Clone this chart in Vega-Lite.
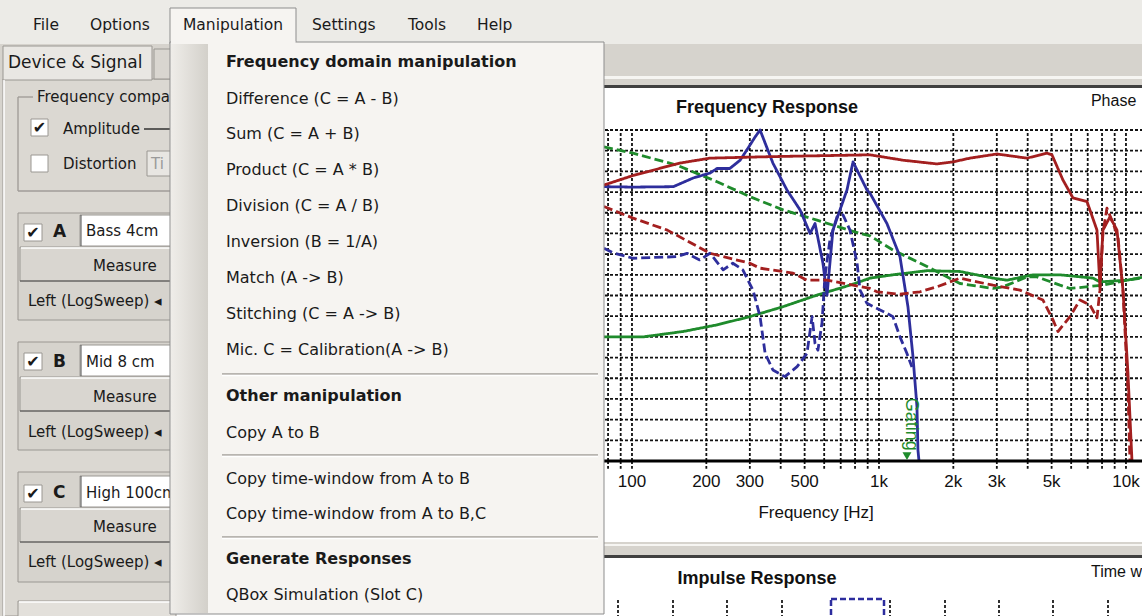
{
"$schema": "https://vega.github.io/schema/vega-lite/v6.json",
"width": 1142, "height": 616, "autosize": {"type": "none"}, "padding": 0,
"background": "#d6d3cd",
"config": {"view": {"stroke": null}, "axis": {"disable": true}, "legend": {"disable": true}},
"datasets": {
"backRects": [
{"p":"menubar","x0":0,"x1":1142,"y0":0,"y1":44},
{"p":"highlight","x0":172,"x1":1142,"y0":76,"y1":79},
{"p":"border","x0":172,"x1":1142,"y0":85,"y1":88},
{"p":"panel","x0":172,"x1":1142,"y0":88,"y1":542},
{"p":"highlight","x0":172,"x1":1142,"y0":544,"y1":546},
{"p":"border","x0":172,"x1":1142,"y0":555,"y1":558},
{"p":"panel","x0":172,"x1":1142,"y0":558,"y1":616}
],
"impGrid": [{"x":618},{"x":673},{"x":727},{"x":782},{"x":890},{"x":945},{"x":999},{"x":1053},{"x":1108}],
"hgrid": [{"db":25},{"db":30},{"db":35},{"db":40},{"db":45},{"db":50},{"db":55},{"db":60},{"db":65},{"db":70},{"db":75},{"db":80},{"db":85},{"db":90},{"db":95},{"db":100}],
"vgrid": [{"f":20},{"f":30},{"f":40},{"f":50},{"f":60},{"f":70},{"f":80},{"f":90},{"f":100},{"f":200},{"f":300},{"f":400},{"f":500},{"f":600},{"f":700},{"f":800},{"f":900},{"f":1000},{"f":2000},{"f":3000},{"f":4000},{"f":5000},{"f":6000},{"f":7000},{"f":8000},{"f":9000},{"f":10000},{"f":20000}],
"flabels": [{"f":100,"t":"100"},{"f":200,"t":"200"},{"f":300,"t":"300"},{"f":500,"t":"500"},{"f":1000,"t":"1k"},{"f":2000,"t":"2k"},{"f":3000,"t":"3k"},{"f":5000,"t":"5k"},{"f":10000,"t":"10k"}],
"curves": [
{"s":"A","k":"magnitude","f":77,"db":50},{"s":"A","k":"magnitude","f":111,"db":50},{"s":"A","k":"magnitude","f":161,"db":51.3},{"s":"A","k":"magnitude","f":221,"db":52.9},{"s":"A","k":"magnitude","f":300,"db":54.9},{"s":"A","k":"magnitude","f":409,"db":57.3},{"s":"A","k":"magnitude","f":561,"db":60.1},{"s":"A","k":"magnitude","f":763,"db":62.5},{"s":"A","k":"magnitude","f":920,"db":64.2},{"s":"A","k":"magnitude","f":1139,"db":65},{"s":"A","k":"magnitude","f":1565,"db":66},{"s":"A","k":"magnitude","f":2128,"db":65.8},{"s":"A","k":"magnitude","f":2894,"db":64.2},{"s":"A","k":"magnitude","f":3298,"db":63.7},{"s":"A","k":"magnitude","f":4203,"db":65},{"s":"A","k":"magnitude","f":5406,"db":65},{"s":"A","k":"magnitude","f":7353,"db":64.2},{"s":"A","k":"magnitude","f":7845,"db":63.3},{"s":"A","k":"magnitude","f":10094,"db":63.7},{"s":"A","k":"magnitude","f":11612,"db":64.4},
{"s":"A","k":"phase","f":77,"db":95.9},{"s":"A","k":"phase","f":101,"db":94.4},{"s":"A","k":"phase","f":152,"db":91.5},{"s":"A","k":"phase","f":221,"db":87.5},{"s":"A","k":"phase","f":300,"db":83.9},{"s":"A","k":"phase","f":409,"db":80.7},{"s":"A","k":"phase","f":561,"db":78.2},{"s":"A","k":"phase","f":838,"db":75},{"s":"A","k":"phase","f":920,"db":74.4},{"s":"A","k":"phase","f":1139,"db":71},{"s":"A","k":"phase","f":1565,"db":67},{"s":"A","k":"phase","f":2128,"db":62.9},{"s":"A","k":"phase","f":2894,"db":61.7},{"s":"A","k":"phase","f":3177,"db":62.1},{"s":"A","k":"phase","f":3974,"db":64.5},{"s":"A","k":"phase","f":4363,"db":64.5},{"s":"A","k":"phase","f":5406,"db":62.5},{"s":"A","k":"phase","f":5933,"db":61.7},{"s":"A","k":"phase","f":8068,"db":62.5},{"s":"A","k":"phase","f":10094,"db":63.7},{"s":"A","k":"phase","f":11612,"db":64.2},
{"s":"B","k":"magnitude","f":77,"db":86.3},{"s":"B","k":"magnitude","f":101,"db":86.2},{"s":"B","k":"magnitude","f":147,"db":86.3},{"s":"B","k":"magnitude","f":177,"db":88.4},{"s":"B","k":"magnitude","f":207,"db":89.6},{"s":"B","k":"magnitude","f":221,"db":90.7},{"s":"B","k":"magnitude","f":249,"db":90.7},{"s":"B","k":"magnitude","f":274,"db":92.7},{"s":"B","k":"magnitude","f":292,"db":95.2},{"s":"B","k":"magnitude","f":315,"db":98.3},{"s":"B","k":"magnitude","f":330,"db":100},{"s":"B","k":"magnitude","f":372,"db":92},{"s":"B","k":"magnitude","f":424,"db":85.5},{"s":"B","k":"magnitude","f":479,"db":80.7},{"s":"B","k":"magnitude","f":526,"db":75},{"s":"B","k":"magnitude","f":551,"db":77.4},{"s":"B","k":"magnitude","f":593,"db":67.8},{"s":"B","k":"magnitude","f":616,"db":60.1},{"s":"B","k":"magnitude","f":651,"db":75.8},{"s":"B","k":"magnitude","f":742,"db":85.5},{"s":"B","k":"magnitude","f":785,"db":92.3},{"s":"B","k":"magnitude","f":894,"db":85.5},{"s":"B","k":"magnitude","f":920,"db":84.7},{"s":"B","k":"magnitude","f":1077,"db":77.4},{"s":"B","k":"magnitude","f":1216,"db":69.4},{"s":"B","k":"magnitude","f":1310,"db":57.3},{"s":"B","k":"magnitude","f":1373,"db":45.2},{"s":"B","k":"magnitude","f":1425,"db":33.1},{"s":"B","k":"magnitude","f":1438,"db":22.7},{"s":"B","k":"magnitude","f":1452,"db":20},
{"s":"B","k":"phase","f":77,"db":71.4},{"s":"B","k":"phase","f":84,"db":70.3},{"s":"B","k":"phase","f":101,"db":69},{"s":"B","k":"phase","f":152,"db":69.4},{"s":"B","k":"phase","f":167,"db":70.2},{"s":"B","k":"phase","f":188,"db":68.6},{"s":"B","k":"phase","f":207,"db":70.2},{"s":"B","k":"phase","f":234,"db":66.2},{"s":"B","k":"phase","f":256,"db":67.8},{"s":"B","k":"phase","f":281,"db":66.2},{"s":"B","k":"phase","f":309,"db":61.3},{"s":"B","k":"phase","f":330,"db":54.9},{"s":"B","k":"phase","f":346,"db":46},{"s":"B","k":"phase","f":372,"db":42},{"s":"B","k":"phase","f":416,"db":40.4},{"s":"B","k":"phase","f":466,"db":42.8},{"s":"B","k":"phase","f":511,"db":46},{"s":"B","k":"phase","f":536,"db":54.9},{"s":"B","k":"phase","f":551,"db":48.4},{"s":"B","k":"phase","f":566,"db":46.8},{"s":"B","k":"phase","f":588,"db":53.4},{"s":"B","k":"phase","f":604,"db":64.5},{"s":"B","k":"phase","f":633,"db":73.4},{"s":"B","k":"phase","f":676,"db":79},{"s":"B","k":"phase","f":715,"db":79.5},{"s":"B","k":"phase","f":763,"db":75.8},{"s":"B","k":"phase","f":815,"db":67.9},{"s":"B","k":"phase","f":838,"db":61.3},{"s":"B","k":"phase","f":894,"db":58.1},{"s":"B","k":"phase","f":1077,"db":55.7},{"s":"B","k":"phase","f":1139,"db":54.9},{"s":"B","k":"phase","f":1216,"db":50},{"s":"B","k":"phase","f":1298,"db":46},{"s":"B","k":"phase","f":1360,"db":42.7},
{"s":"C","k":"magnitude","f":77,"db":86.7},{"s":"C","k":"magnitude","f":101,"db":89},{"s":"C","k":"magnitude","f":156,"db":92},{"s":"C","k":"magnitude","f":207,"db":93.2},{"s":"C","k":"magnitude","f":330,"db":93.5},{"s":"C","k":"magnitude","f":479,"db":93.7},{"s":"C","k":"magnitude","f":920,"db":94},{"s":"C","k":"magnitude","f":1251,"db":92.7},{"s":"C","k":"magnitude","f":1717,"db":91.8},{"s":"C","k":"magnitude","f":1994,"db":92.3},{"s":"C","k":"magnitude","f":2336,"db":93.2},{"s":"C","k":"magnitude","f":3004,"db":94.2},{"s":"C","k":"magnitude","f":3974,"db":93.2},{"s":"C","k":"magnitude","f":4788,"db":94.4},{"s":"C","k":"magnitude","f":5016,"db":94},{"s":"C","k":"magnitude","f":5559,"db":87.9},{"s":"C","k":"magnitude","f":6101,"db":83.6},{"s":"C","k":"magnitude","f":6953,"db":82.7},{"s":"C","k":"magnitude","f":7631,"db":75.8},{"s":"C","k":"magnitude","f":7845,"db":62.1},{"s":"C","k":"magnitude","f":8068,"db":75.8},{"s":"C","k":"magnitude","f":8612,"db":79},{"s":"C","k":"magnitude","f":9196,"db":75.8},{"s":"C","k":"magnitude","f":9725,"db":61.3},{"s":"C","k":"magnitude","f":10186,"db":41.3},{"s":"C","k":"magnitude","f":10576,"db":20},
{"s":"C","k":"phase","f":77,"db":81.5},{"s":"C","k":"phase","f":101,"db":78.7},{"s":"C","k":"phase","f":139,"db":75.8},{"s":"C","k":"phase","f":207,"db":70.2},{"s":"C","k":"phase","f":300,"db":67.8},{"s":"C","k":"phase","f":330,"db":66.6},{"s":"C","k":"phase","f":409,"db":65.8},{"s":"C","k":"phase","f":449,"db":65.4},{"s":"C","k":"phase","f":511,"db":63.7},{"s":"C","k":"phase","f":616,"db":63.7},{"s":"C","k":"phase","f":785,"db":62.5},{"s":"C","k":"phase","f":920,"db":61.7},{"s":"C","k":"phase","f":982,"db":60.9},{"s":"C","k":"phase","f":1216,"db":60.3},{"s":"C","k":"phase","f":1466,"db":60.9},{"s":"C","k":"phase","f":1717,"db":62.1},{"s":"C","k":"phase","f":2128,"db":64.2},{"s":"C","k":"phase","f":2494,"db":63.3},{"s":"C","k":"phase","f":2894,"db":62.5},{"s":"C","k":"phase","f":3724,"db":61.3},{"s":"C","k":"phase","f":4613,"db":58.9},{"s":"C","k":"phase","f":5063,"db":54.1},{"s":"C","k":"phase","f":5304,"db":51.3},{"s":"C","k":"phase","f":5933,"db":54.9},{"s":"C","k":"phase","f":6513,"db":58.9},{"s":"C","k":"phase","f":7150,"db":57.7},{"s":"C","k":"phase","f":7631,"db":54.6},{"s":"C","k":"phase","f":7845,"db":61.3},{"s":"C","k":"phase","f":8068,"db":75.1},{"s":"C","k":"phase","f":8375,"db":81.1},{"s":"C","k":"phase","f":8860,"db":77.5},{"s":"C","k":"phase","f":9282,"db":74.2},{"s":"C","k":"phase","f":9725,"db":61.3},{"s":"C","k":"phase","f":10186,"db":37.2},{"s":"C","k":"phase","f":10380,"db":20}
],
"panelRects": [
{"p":"panel","x0":3,"x1":172,"y0":79,"y1":616},
{"p":"tab2","x0":154,"x1":176,"y0":49,"y1":79},
{"p":"tab","x0":3,"x1":152,"y0":46,"y1":80},
{"p":"group","x0":18,"x1":176,"y0":213,"y1":320},
{"p":"group","x0":18,"x1":176,"y0":342,"y1":450},
{"p":"group","x0":18,"x1":176,"y0":472,"y1":582},
{"p":"field","x0":80,"x1":178,"y0":215,"y1":246},
{"p":"field","x0":80,"x1":178,"y0":345,"y1":376},
{"p":"field","x0":80,"x1":178,"y0":476,"y1":507},
{"p":"button","x0":20,"x1":176,"y0":247,"y1":281},
{"p":"button","x0":20,"x1":176,"y0":377,"y1":411},
{"p":"button","x0":20,"x1":176,"y0":508,"y1":542},
{"p":"bottom","x0":18,"x1":176,"y0":601,"y1":630},
{"p":"check","x0":31,"x1":48,"y0":119,"y1":136},
{"p":"check","x0":31,"x1":48,"y0":155,"y1":172},
{"p":"check","x0":24,"x1":42,"y0":224,"y1":241},
{"p":"check","x0":24,"x1":42,"y0":353,"y1":370},
{"p":"check","x0":24,"x1":42,"y0":485,"y1":502},
{"p":"disabled","x0":147,"x1":176,"y0":151,"y1":176}
],
"panelLines": [
{"p":"light","x0":4,"x1":4,"y0":80,"y1":616},
{"p":"frame","x0":18,"x1":33,"y0":97,"y1":97},
{"p":"frame","x0":18,"x1":18,"y0":97,"y1":191},
{"p":"frame","x0":18,"x1":180,"y0":191,"y1":191},
{"p":"ampline","x0":144,"x1":172,"y0":129,"y1":129},
{"p":"dark","x0":20,"x1":176,"y0":281,"y1":281},
{"p":"dark","x0":20,"x1":176,"y0":411,"y1":411},
{"p":"dark","x0":20,"x1":176,"y0":542,"y1":542},
{"p":"light","x0":21,"x1":176,"y0":248,"y1":248},
{"p":"light","x0":21,"x1":176,"y0":378,"y1":378},
{"p":"light","x0":21,"x1":176,"y0":509,"y1":509},
{"p":"light","x0":19,"x1":176,"y0":602,"y1":602},
{"p":"fieldedge","x0":81,"x1":81,"y0":215,"y1":246},
{"p":"fieldedge","x0":81,"x1":81,"y0":345,"y1":376},
{"p":"fieldedge","x0":81,"x1":81,"y0":476,"y1":507}
],
"panelText": [
{"t":"Frequency comparison","x":37,"y":97},
{"t":"Amplitude","x":63,"y":129},
{"t":"Distortion","x":63,"y":164},
{"t":"Bass 4cm","x":86,"y":231},
{"t":"Mid 8 cm","x":86,"y":362},
{"t":"High 100cm","x":86,"y":493},
{"t":"Measure","x":93,"y":266},
{"t":"Measure","x":93,"y":397},
{"t":"Measure","x":93,"y":527},
{"t":"Left (LogSweep) ◂","x":28,"y":301},
{"t":"Left (LogSweep) ◂","x":28,"y":432},
{"t":"Left (LogSweep) ◂","x":28,"y":562}
],
"slotLetters": [{"t":"A","x":53,"y":232},{"t":"B","x":53,"y":362},{"t":"C","x":53,"y":493}],
"checks": [{"x":39.5,"y":128},{"x":33,"y":233},{"x":33,"y":362},{"x":33,"y":494}],
"menuLines": [
{"p":"cover","x0":171,"x1":295.5,"y0":42.5,"y1":42.5},
{"p":"sep","x0":222,"x1":598,"y0":374,"y1":374},
{"p":"sepw","x0":222,"x1":598,"y0":375.5,"y1":375.5},
{"p":"sep","x0":222,"x1":598,"y0":455,"y1":455},
{"p":"sepw","x0":222,"x1":598,"y0":456.5,"y1":456.5},
{"p":"sep","x0":222,"x1":598,"y0":537,"y1":537},
{"p":"sepw","x0":222,"x1":598,"y0":538.5,"y1":538.5}
],
"menuItems": [
{"t":"Difference (C = A - B)","y":99},
{"t":"Sum (C = A + B)","y":134},
{"t":"Product (C = A * B)","y":170},
{"t":"Division (C = A / B)","y":206},
{"t":"Inversion  (B = 1/A)","y":242},
{"t":"Match  (A -> B)","y":278},
{"t":"Stitching  (C = A -> B)","y":314},
{"t":"Mic.  C = Calibration(A -> B)","y":350},
{"t":"Copy A to B","y":433},
{"t":"Copy time-window from A to B","y":479},
{"t":"Copy time-window from A to B,C","y":514},
{"t":"QBox Simulation (Slot C)","y":595}
],
"menuHeads": [
{"t":"Frequency domain manipulation","y":62},
{"t":"Other manipulation","y":396},
{"t":"Generate Responses","y":559}
],
"menuBar": [
{"t":"File","x":33},{"t":"Options","x":90},{"t":"Manipulation","x":183},{"t":"Settings","x":312},{"t":"Tools","x":408},{"t":"Help","x":477}
]
},
"layer": [
{
"layer": [
{"data":{"name":"backRects"},"mark":{"type":"rect"},
 "encoding":{"x":{"field":"x0","type":"quantitative","scale":{"domain":[0,1142],"nice":false,"zero":false}},"x2":{"field":"x1"},
 "y":{"field":"y0","type":"quantitative","scale":{"domain":[0,616],"nice":false,"zero":false,"reverse":true}},"y2":{"field":"y1"},
 "color":{"field":"p","type":"nominal","scale":{"domain":["menubar","highlight","border","panel"],"range":["#ecebe7","#f6f5f2","#404040","#ffffff"]}}}},
{"data":{"name":"impGrid"},"mark":{"type":"rule","color":"#1a1a1a","strokeWidth":1.8,"strokeDash":[3,2]},
 "encoding":{"x":{"field":"x","type":"quantitative","scale":{"domain":[0,1142],"nice":false,"zero":false}},
 "y":{"datum":600,"type":"quantitative","scale":{"domain":[0,616],"nice":false,"zero":false,"reverse":true}},"y2":{"datum":616}}},
{"data":{"values":[{"x0":831,"x1":884,"y0":599,"y1":626}]},"mark":{"type":"rect","filled":false,"stroke":"#2d2d9e","strokeWidth":2.5,"strokeDash":[6,3]},
 "encoding":{"x":{"field":"x0","type":"quantitative","scale":{"domain":[0,1142],"nice":false,"zero":false}},"x2":{"field":"x1"},
 "y":{"field":"y0","type":"quantitative","scale":{"domain":[0,616],"nice":false,"zero":false,"reverse":true}},"y2":{"field":"y1"}}},
{"data":{"values":[{"t":"Impulse Response"}]},"mark":{"type":"text","font":"Liberation Sans","fontSize":18,"fontWeight":"bold","color":"#111111"},
 "encoding":{"x":{"datum":757,"type":"quantitative","scale":{"domain":[0,1142],"nice":false,"zero":false}},
 "y":{"datum":579,"type":"quantitative","scale":{"domain":[0,616],"nice":false,"zero":false,"reverse":true}},"text":{"field":"t"}}},
{"data":{"values":[{"t":"Time window"}]},"mark":{"type":"text","font":"Liberation Sans","fontSize":16,"align":"left","color":"#111111"},
 "encoding":{"x":{"datum":1091,"type":"quantitative","scale":{"domain":[0,1142],"nice":false,"zero":false}},
 "y":{"datum":572,"type":"quantitative","scale":{"domain":[0,616],"nice":false,"zero":false,"reverse":true}},"text":{"field":"t"}}}
]
},
{
"layer": [
{"data":{"name":"hgrid"},"mark":{"type":"rule","color":"#111111","strokeWidth":1.8,"strokeDash":[3,2]},
 "encoding":{"y":{"field":"db","type":"quantitative","scale":{"domain":[-17.46,131.42],"nice":false,"zero":false}},
 "x":{"datum":10,"type":"quantitative","scale":{"type":"log","domain":[0.2762,11612],"nice":false}},"x2":{"datum":20000}}},
{"data":{"name":"vgrid"},"mark":{"type":"rule","color":"#111111","strokeWidth":1.8,"strokeDash":[3,2]},
 "encoding":{"x":{"field":"f","type":"quantitative","scale":{"type":"log","domain":[0.2762,11612],"nice":false}},
 "y":{"datum":20,"type":"quantitative","scale":{"domain":[-17.46,131.42],"nice":false,"zero":false}},"y2":{"datum":100}}},
{"data":{"name":"vgrid"},"mark":{"type":"rule","color":"#111111","strokeWidth":1.8,"strokeDash":[3,2]},
 "encoding":{"x":{"field":"f","type":"quantitative","scale":{"type":"log","domain":[0.2762,11612],"nice":false}},
 "y":{"datum":20,"type":"quantitative","scale":{"domain":[-17.46,131.42],"nice":false,"zero":false}},"y2":{"datum":18.1}}},
{"data":{"name":"curves"},"mark":{"type":"line","strokeWidth":2.8,"strokeJoin":"round"},
 "encoding":{"x":{"field":"f","type":"quantitative","scale":{"type":"log","domain":[0.2762,11612],"nice":false}},
 "y":{"field":"db","type":"quantitative","scale":{"domain":[-17.46,131.42],"nice":false,"zero":false}},
 "color":{"field":"s","type":"nominal","scale":{"domain":["A","B","C"],"range":["#1f8b2c","#2e2e9c","#a31f1f"]}},
 "strokeDash":{"field":"k","type":"nominal","scale":{"domain":["magnitude","phase"],"range":[[1,0],[9,4]]}}}},
{"data":{"values":[{"t":"axis"}]},"mark":{"type":"rule","color":"#000000","strokeWidth":3},
 "encoding":{"x":{"datum":10,"type":"quantitative","scale":{"type":"log","domain":[0.2762,11612],"nice":false}},"x2":{"datum":20000},
 "y":{"datum":20,"type":"quantitative","scale":{"domain":[-17.46,131.42],"nice":false,"zero":false}}}},
{"data":{"name":"flabels"},"mark":{"type":"text","font":"Liberation Sans","fontSize":17,"color":"#111111"},
 "encoding":{"x":{"field":"f","type":"quantitative","scale":{"type":"log","domain":[0.2762,11612],"nice":false}},
 "y":{"datum":14.9,"type":"quantitative","scale":{"domain":[-17.46,131.42],"nice":false,"zero":false}},"text":{"field":"t"}}},
{"data":{"values":[{"t":"Frequency [Hz]"}]},"mark":{"type":"text","font":"Liberation Sans","fontSize":17,"color":"#111111"},
 "encoding":{"x":{"datum":556,"type":"quantitative","scale":{"type":"log","domain":[0.2762,11612],"nice":false}},
 "y":{"datum":7.4,"type":"quantitative","scale":{"domain":[-17.46,131.42],"nice":false,"zero":false}},"text":{"field":"t"}}},
{"data":{"values":[{"t":"Frequency Response"}]},"mark":{"type":"text","font":"Liberation Sans","fontSize":18,"fontWeight":"bold","color":"#111111"},
 "encoding":{"x":{"datum":352,"type":"quantitative","scale":{"type":"log","domain":[0.2762,11612],"nice":false}},
 "y":{"datum":105.3,"type":"quantitative","scale":{"domain":[-17.46,131.42],"nice":false,"zero":false}},"text":{"field":"t"}}},
{"data":{"values":[{"t":"Phase"}]},"mark":{"type":"text","font":"Liberation Sans","fontSize":16,"align":"left","color":"#111111"},
 "encoding":{"x":{"datum":7213,"type":"quantitative","scale":{"type":"log","domain":[0.2762,11612],"nice":false}},
 "y":{"datum":107,"type":"quantitative","scale":{"domain":[-17.46,131.42],"nice":false,"zero":false}},"text":{"field":"t"}}},
{"data":{"values":[{"t":"Gating"}]},"mark":{"type":"text","font":"Liberation Sans","fontSize":18,"angle":90,"color":"#1f8b2c"},
 "encoding":{"x":{"datum":1348,"type":"quantitative","scale":{"type":"log","domain":[0.2762,11612],"nice":false}},
 "y":{"datum":28.9,"type":"quantitative","scale":{"domain":[-17.46,131.42],"nice":false,"zero":false}},"text":{"field":"t"}}},
{"data":{"values":[{"t":"gate"}]},"mark":{"type":"point","shape":"triangle-down","filled":true,"size":80,"color":"#1f8b2c","opacity":1},
 "encoding":{"x":{"datum":1298,"type":"quantitative","scale":{"type":"log","domain":[0.2762,11612],"nice":false}},
 "y":{"datum":21.2,"type":"quantitative","scale":{"domain":[-17.46,131.42],"nice":false,"zero":false}}}}
]
},
{
"layer": [
{"data":{"name":"panelRects"},"mark":{"type":"rect","stroke":"#9a9792","strokeWidth":1},
 "encoding":{"x":{"field":"x0","type":"quantitative","scale":{"domain":[0,1142],"nice":false,"zero":false}},"x2":{"field":"x1"},
 "y":{"field":"y0","type":"quantitative","scale":{"domain":[0,616],"nice":false,"zero":false,"reverse":true}},"y2":{"field":"y1"},
 "color":{"field":"p","type":"nominal","scale":{"domain":["panel","tab","tab2","group","field","button","bottom","check","disabled"],"range":["#dbd8d2","#e9e7e3","#d9d6d0","#d6d3cd","#ffffff","#d9d6d0","#e3e0db","#ffffff","#e8e6e2"]}}}},
{"data":{"name":"panelLines"},"mark":{"type":"rule"},
 "encoding":{"x":{"field":"x0","type":"quantitative","scale":{"domain":[0,1142],"nice":false,"zero":false}},"x2":{"field":"x1"},
 "y":{"field":"y0","type":"quantitative","scale":{"domain":[0,616],"nice":false,"zero":false,"reverse":true}},"y2":{"field":"y1"},
 "color":{"field":"p","type":"nominal","scale":{"domain":["light","frame","ampline","dark","fieldedge"],"range":["#ffffff","#a09d98","#111111","#4d4d4d","#505050"]}},
 "size":{"field":"p","type":"nominal","scale":{"domain":["light","frame","ampline","dark","fieldedge"],"range":[1.5,1,2.5,3,2]}}}},
{"data":{"values":[{"t":"Device & Signal"}]},"mark":{"type":"text","font":"DejaVu Sans","fontSize":17,"align":"left","color":"#1a1a1a"},
 "encoding":{"x":{"datum":8,"type":"quantitative","scale":{"domain":[0,1142],"nice":false,"zero":false}},
 "y":{"datum":63,"type":"quantitative","scale":{"domain":[0,616],"nice":false,"zero":false,"reverse":true}},"text":{"field":"t"}}},
{"data":{"name":"panelText"},"mark":{"type":"text","font":"DejaVu Sans","fontSize":15,"align":"left","color":"#1a1a1a"},
 "encoding":{"x":{"field":"x","type":"quantitative","scale":{"domain":[0,1142],"nice":false,"zero":false}},
 "y":{"field":"y","type":"quantitative","scale":{"domain":[0,616],"nice":false,"zero":false,"reverse":true}},"text":{"field":"t"}}},
{"data":{"name":"slotLetters"},"mark":{"type":"text","font":"DejaVu Sans","fontSize":17,"fontWeight":"bold","align":"left","color":"#1a1a1a"},
 "encoding":{"x":{"field":"x","type":"quantitative","scale":{"domain":[0,1142],"nice":false,"zero":false}},
 "y":{"field":"y","type":"quantitative","scale":{"domain":[0,616],"nice":false,"zero":false,"reverse":true}},"text":{"field":"t"}}},
{"data":{"name":"checks"},"mark":{"type":"text","font":"DejaVu Sans","fontSize":16,"fontWeight":"bold","color":"#1a1a1a","text":"✔"},
 "encoding":{"x":{"field":"x","type":"quantitative","scale":{"domain":[0,1142],"nice":false,"zero":false}},
 "y":{"field":"y","type":"quantitative","scale":{"domain":[0,616],"nice":false,"zero":false,"reverse":true}}}},
{"data":{"values":[{"t":"Ti"}]},"mark":{"type":"text","font":"DejaVu Sans","fontSize":15,"align":"left","color":"#9a9a9a"},
 "encoding":{"x":{"datum":151,"type":"quantitative","scale":{"domain":[0,1142],"nice":false,"zero":false}},
 "y":{"datum":164,"type":"quantitative","scale":{"domain":[0,616],"nice":false,"zero":false,"reverse":true}},"text":{"field":"t"}}},
{"data":{"values":[{"x0":170,"x1":296,"y0":8,"y1":44},{"x0":170,"x1":604,"y0":42,"y1":614}]},"mark":{"type":"rect","fill":"#f6f4f1","stroke":"#8d8d8d","strokeWidth":1},
 "encoding":{"x":{"field":"x0","type":"quantitative","scale":{"domain":[0,1142],"nice":false,"zero":false}},"x2":{"field":"x1"},
 "y":{"field":"y0","type":"quantitative","scale":{"domain":[0,616],"nice":false,"zero":false,"reverse":true}},"y2":{"field":"y1"}}},
{"data":{"values":[{"x0":171,"x1":208,"y0":43,"y1":613}]},"mark":{"type":"rect","fill":{"gradient":"linear","x1":0,"y1":0,"x2":1,"y2":0,"stops":[{"offset":0,"color":"#efede9"},{"offset":1,"color":"#d3d0ca"}]}},
 "encoding":{"x":{"field":"x0","type":"quantitative","scale":{"domain":[0,1142],"nice":false,"zero":false}},"x2":{"field":"x1"},
 "y":{"field":"y0","type":"quantitative","scale":{"domain":[0,616],"nice":false,"zero":false,"reverse":true}},"y2":{"field":"y1"}}},
{"data":{"name":"menuLines"},"mark":{"type":"rule"},
 "encoding":{"x":{"field":"x0","type":"quantitative","scale":{"domain":[0,1142],"nice":false,"zero":false}},"x2":{"field":"x1"},
 "y":{"field":"y0","type":"quantitative","scale":{"domain":[0,616],"nice":false,"zero":false,"reverse":true}},"y2":{"field":"y1"},
 "color":{"field":"p","type":"nominal","scale":{"domain":["cover","sep","sepw"],"range":["#f6f4f1","#b8b5b0","#ffffff"]}},
 "size":{"field":"p","type":"nominal","scale":{"domain":["cover","sep","sepw"],"range":[3,1.5,1.5]}}}},
{"data":{"name":"menuItems"},"mark":{"type":"text","font":"DejaVu Sans","fontSize":16,"align":"left","color":"#1a1a1a"},
 "encoding":{"x":{"datum":226,"type":"quantitative","scale":{"domain":[0,1142],"nice":false,"zero":false}},
 "y":{"field":"y","type":"quantitative","scale":{"domain":[0,616],"nice":false,"zero":false,"reverse":true}},"text":{"field":"t"}}},
{"data":{"name":"menuHeads"},"mark":{"type":"text","font":"DejaVu Sans","fontSize":16,"fontWeight":"bold","align":"left","color":"#1a1a1a"},
 "encoding":{"x":{"datum":226,"type":"quantitative","scale":{"domain":[0,1142],"nice":false,"zero":false}},
 "y":{"field":"y","type":"quantitative","scale":{"domain":[0,616],"nice":false,"zero":false,"reverse":true}},"text":{"field":"t"}}},
{"data":{"name":"menuBar"},"mark":{"type":"text","font":"DejaVu Sans","fontSize":15.5,"align":"left","color":"#1a1a1a"},
 "encoding":{"x":{"field":"x","type":"quantitative","scale":{"domain":[0,1142],"nice":false,"zero":false}},
 "y":{"datum":25,"type":"quantitative","scale":{"domain":[0,616],"nice":false,"zero":false,"reverse":true}},"text":{"field":"t"}}}
],
"resolve": {"scale": {"color": "independent", "size": "independent"}}
}
],
"resolve": {"scale": {"x": "independent", "y": "independent", "color": "independent", "size": "independent", "strokeDash": "independent"}}
}
